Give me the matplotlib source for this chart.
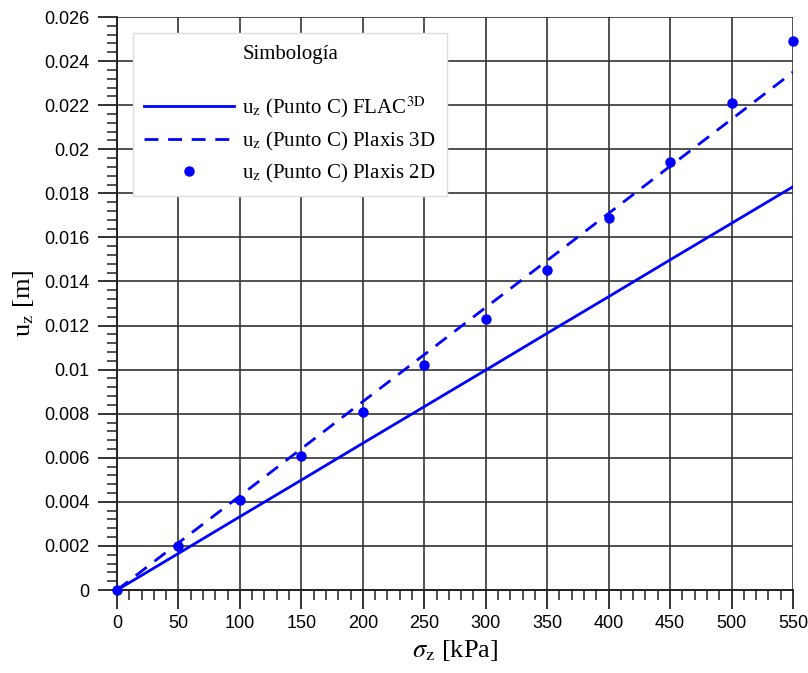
import numpy as np
import matplotlib
matplotlib.use('Agg')
import matplotlib.pyplot as plt
from matplotlib.ticker import MultipleLocator, FuncFormatter

# datos
sigma = [0, 50, 100, 150, 200, 250, 300, 350, 400, 450, 500, 550]
u_flac = [0, 0.00166, 0.00333, 0.00499, 0.00666, 0.00832, 0.00998, 0.01165, 0.01331, 0.01498, 0.01664, 0.0183]
u_plaxis3d = [0, 0.00214, 0.00427, 0.00641, 0.00855, 0.01068, 0.01282, 0.01495, 0.01709, 0.01923, 0.02136, 0.0235]
u_plaxis2d = [0, 0.0020, 0.0041, 0.0061, 0.0081, 0.0102, 0.0123, 0.0145, 0.0169, 0.0194, 0.0221, 0.0249]

plt.rcParams['mathtext.fontset'] = 'stix'
serif = 'Liberation Serif'
sans = 'Liberation Sans'

fig = plt.figure(figsize=(8.08, 6.73), dpi=100)
ax = fig.add_axes([0.1448, 0.1233, 0.8366, 0.8514])

azul = '#0000ff'
ax.plot(sigma, u_flac, color=azul, lw=2, label=r'u$_{\rm z}$ (Punto C) FLAC$^{\rm 3D}$')
ax.plot(sigma, u_plaxis3d, color=azul, lw=2, ls=(0, (5, 3.5)), label=r'u$_{\rm z}$ (Punto C) Plaxis 3D')
ax.plot(sigma, u_plaxis2d, 'o', color=azul, ms=6.5, clip_on=False, zorder=5,
        label=r'u$_{\rm z}$ (Punto C) Plaxis 2D')

ax.set_xlim(0, 550)
ax.set_ylim(0, 0.026)
ax.xaxis.set_major_locator(MultipleLocator(50))
ax.xaxis.set_minor_locator(MultipleLocator(10))
ax.yaxis.set_major_locator(MultipleLocator(0.002))
ax.yaxis.set_minor_locator(MultipleLocator(0.0004))
ax.yaxis.set_major_formatter(FuncFormatter(lambda v, p: '%g' % round(v, 4)))

ax.grid(which='major', color='#333333', lw=1.2)
ax.set_axisbelow(True)
for s in ['top', 'right']:
    ax.spines[s].set_visible(False)
for s in ['left', 'bottom']:
    ax.spines[s].set_linewidth(1.4)
    ax.spines[s].set_color('#222222')

ax.tick_params(which='major', direction='out', length=14, width=1.3, color='#222222', pad=4)
ax.tick_params(which='minor', direction='out', length=7, width=1.1, color='#222222')
for lab in ax.get_xticklabels() + ax.get_yticklabels():
    lab.set_fontfamily(sans)
    lab.set_fontsize(13)
ax.tick_params(axis='y', pad=6)

ax.set_xlabel(r'$\sigma_{\rm z}$ [kPa]', fontfamily=serif, fontsize=19, labelpad=4)
ax.set_ylabel(r'u$_{\rm z}$ [m]', fontfamily=serif, fontsize=19, labelpad=6)

leg = ax.legend(loc='upper left', bbox_to_anchor=(0.0237, 0.972), borderaxespad=0,
                title='Simbología\n', prop={'family': serif, 'size': 15},
                handlelength=4.3, frameon=True, fancybox=False, framealpha=1,
                edgecolor='#dddddd', borderpad=0.55, labelspacing=0.45,
                handletextpad=0.4)
leg.get_title().set_fontfamily(serif)
leg.get_title().set_fontsize(15)
leg.get_frame().set_linewidth(1)

fig.savefig('out.png', dpi=100)
